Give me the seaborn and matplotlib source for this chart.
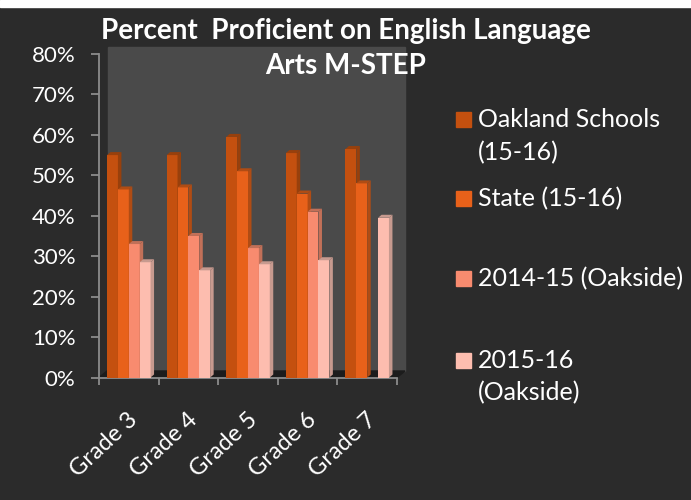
import numpy as np
import pandas as pd
import seaborn as sns
import matplotlib.pyplot as plt
from matplotlib.patches import Rectangle, Polygon
from matplotlib.ticker import PercentFormatter, FixedLocator
from matplotlib.transforms import ScaledTranslation

# Values (percent proficient)
grades = ["Grade 3", "Grade 4", "Grade 5", "Grade 6", "Grade 7"]
oakland_1516 = [55, 55, 59.5, 55.5, 56.5]
state_1516 = [46.5, 47, 51, 45.5, 48]
oakside_1415 = [33, 35, 32, 41, np.nan]
oakside_1516 = [28.5, 26.5, 28, 29, 39.5]

series = ["Oakland Schools (15-16)", "State (15-16)", "2014-15 (Oakside)", "2015-16 (Oakside)"]
legend_labels = ["Oakland Schools\n(15-16)", "State (15-16)", "2014-15 (Oakside)", "2015-16\n(Oakside)"]
colors = ["#C4500F", "#E8611A", "#F88B6F", "#FDBDAF"]
side_colors = ["#98400C", "#B04C14", "#C27058", "#C79A8F"]

df = pd.DataFrame({
    "Grade": grades * 4,
    "Series": np.repeat(series, len(grades)),
    "Percent": np.array(oakland_1516 + state_1516 + oakside_1415 + oakside_1516) / 100,
})

W, H = 691, 500
bg = "#2B2B2B"
fig = plt.figure(figsize=(W / 100, H / 100), dpi=100, facecolor=bg)

def fx(px):
    return px / W

def fy(py):
    return 1 - py / H

# white strip at the very top
fig.add_artist(Rectangle((0, fy(7)), 1, 7 / H, transform=fig.transFigure,
                         color="white", zorder=-2))
# back wall and floor of the 3D plot area
fig.add_artist(Rectangle((fx(108), fy(371)), fx(405) - fx(108), fy(47) - fy(371),
                         transform=fig.transFigure, color="#4A4A4A", zorder=-1))
fig.add_artist(Polygon([(fx(99), fy(377.5)), (fx(397), fy(377.5)), (fx(405), fy(371)), (fx(107), fy(371))],
                       closed=True, transform=fig.transFigure, color="#1C1C1C", zorder=-1))

ax = fig.add_axes([fx(99), fy(377.5), fx(397) - fx(99), fy(54) - fy(377.5)])
ax.set_facecolor("none")

sns.barplot(data=df, x="Grade", y="Percent", hue="Series", hue_order=series,
            palette=colors, saturation=1, width=0.73, errorbar=None,
            linewidth=0, legend=False, ax=ax)

ax.set_xlim(-0.5, 4.5)
ax.set_ylim(0, 0.8)

# fake depth: side and top faces derived from each bar
ppx = (fx(397) - fx(99)) * W / 5.0          # pixels per x unit
ppy = (fy(54) - fy(377.5)) * H / 0.8        # pixels per y unit
dx, dy = 3.5 / ppx, 3.0 / ppy
for k, cont in enumerate(ax.containers):
    for bar in cont:
        x0, w, h = bar.get_x(), bar.get_width(), bar.get_height()
        if not np.isfinite(h) or h <= 0:
            continue
        bar.set_zorder(3 + k)
        ax.add_patch(Polygon([(x0 + w, 0), (x0 + w + dx, dy), (x0 + w + dx, h + dy), (x0 + w, h)],
                             closed=True, color=side_colors[k], zorder=3 + k, lw=0))
        ax.add_patch(Polygon([(x0, h), (x0 + dx, h + dy), (x0 + w + dx, h + dy), (x0 + w, h)],
                             closed=True, color=side_colors[k], zorder=3 + k, lw=0))

# axes styling
axis_gray = "#8C8C8C"
for s in ["top", "right"]:
    ax.spines[s].set_visible(False)
for s in ["left", "bottom"]:
    ax.spines[s].set_color(axis_gray)
    ax.spines[s].set_linewidth(1.3)

ax.set_xlabel("")
ax.set_ylabel("")
ax.yaxis.set_major_locator(FixedLocator(np.arange(0, 0.81, 0.1)))
ax.yaxis.set_major_formatter(PercentFormatter(1.0, decimals=0))
ax.tick_params(axis="y", colors=axis_gray, length=6, width=1.3, pad=11,
               labelcolor="white", labelsize=16)
ax.xaxis.set_minor_locator(FixedLocator(np.arange(-0.5, 4.6, 1)))
ax.tick_params(axis="x", which="minor", colors=axis_gray, length=5, width=1.3)
ax.tick_params(axis="x", which="major", length=0, pad=28, labelcolor="white", labelsize=17)
for lab in ax.get_yticklabels():
    lab.set_family("Lato")
shift = ScaledTranslation(6 / 100, 0, fig.dpi_scale_trans)
for lab in ax.get_xticklabels():
    lab.set_family("Lato")
    lab.set_rotation(43)
    lab.set_ha("right")
    lab.set_va("center")
    lab.set_rotation_mode("anchor")
    lab.set_transform(lab.get_transform() + shift)

# title
fig.text(0.5, fy(39.3), "Percent  Proficient on English Language", ha="center", va="baseline",
         color="white", fontsize=20, fontweight="bold", family="Lato")
fig.text(0.5, fy(73.6), "Arts M-STEP", ha="center", va="baseline",
         color="white", fontsize=20, fontweight="bold", family="Lato")

# legend
baselines = [127.3, 206.7, 286.7, 368]
for i, label in enumerate(legend_labels):
    b = baselines[i]
    fig.add_artist(Rectangle((fx(456), fy(b - 0.5)), 15 / W, 15 / H, transform=fig.transFigure,
                             color=colors[i]))
    for j, line in enumerate(label.split("\n")):
        fig.text(fx(478), fy(b + j * 32.5), line, ha="left", va="baseline",
                 color="white", fontsize=18, family="Lato")

fig.savefig("out.png", dpi=100, facecolor=bg)
